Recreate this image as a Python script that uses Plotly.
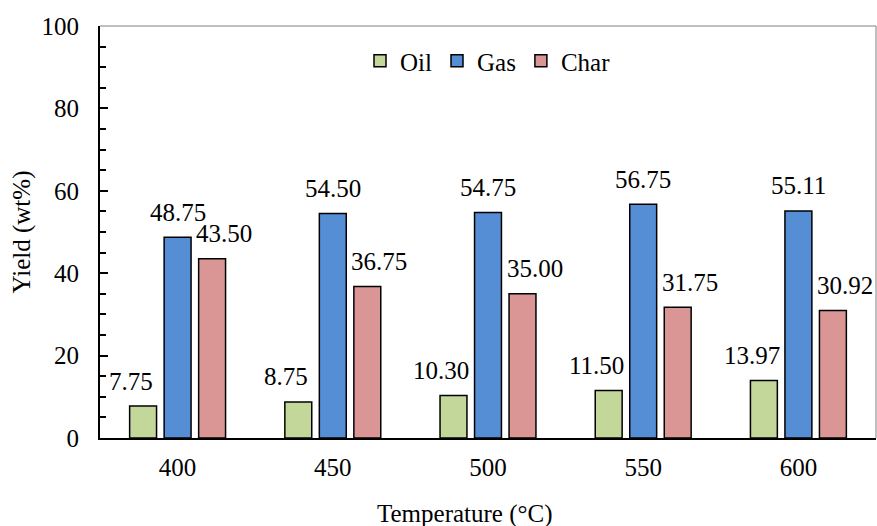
import plotly.graph_objects as go

categories = ["400", "450", "500", "550", "600"]
oil = [7.75, 8.75, 10.30, 11.50, 13.97]
gas = [48.75, 54.50, 54.75, 56.75, 55.11]
char = [43.50, 36.75, 35.00, 31.75, 30.92]
y_ticks = [0, 20, 40, 60, 80, 100]
x_title = "Temperature (°C)"
y_title = "Yield (wt%)"

series = [
    ("Oil", oil, "#C4D79B", -0.30),
    ("Gas", gas, "#558ED5", 0.0),
    ("Char", char, "#D99694", 0.30),
]

FONT = "Times New Roman, Liberation Serif, serif"
FS = 25
fig = go.Figure()
annotations = []
for name, vals, color, lab_off in series:
    fig.add_trace(go.Bar(
        name=name, x=categories, y=vals,
        marker=dict(color=color, line=dict(color="black", width=1.5)),
    ))
    for i, v in enumerate(vals):
        annotations.append(dict(
            x=i + lab_off, y=v, xref="x", yref="y", text=f"{v:.2f}",
            showarrow=False, yanchor="middle", yshift=25,
            font=dict(family=FONT, size=FS, color="black"),
        ))

# x-axis title placed slightly left of centre, as in the reference
annotations.append(dict(
    x=0.47, y=0, xref="paper", yref="paper", text=x_title, showarrow=False,
    xanchor="center", yanchor="middle", yshift=-76,
    font=dict(family=FONT, size=FS, color="black"),
))

fig.update_layout(
    width=877, height=526,
    margin=dict(l=100, r=1, t=26, b=88, autoexpand=False),
    paper_bgcolor="white", plot_bgcolor="white",
    barmode="group", bargap=0.333, bargroupgap=0.22,
    font=dict(family=FONT, size=FS, color="black"),
    showlegend=True,
    legend=dict(orientation="h", x=0.5, xanchor="center", y=0.915, yanchor="middle",
                font=dict(family=FONT, size=FS), bgcolor="rgba(0,0,0,0)",
                itemwidth=30, tracegroupgap=0),
    annotations=annotations,
    shapes=[
        dict(type="line", xref="paper", yref="paper", x0=0, x1=1, y0=1, y1=1,
             line=dict(color="#808080", width=1)),
        dict(type="line", xref="paper", yref="paper", x0=1, x1=1, y0=0, y1=1,
             line=dict(color="#808080", width=1)),
    ],
)
fig.update_xaxes(
    type="category", showline=True, linecolor="black", linewidth=2,
    ticks="", ticklabelstandoff=6, showgrid=False, zeroline=False, automargin=False,
    tickfont=dict(family=FONT, size=FS),
)
fig.update_yaxes(
    range=[0, 100], tickvals=y_ticks, showline=True, linecolor="black", linewidth=2,
    ticks="inside", ticklen=8, tickwidth=2, tickcolor="black",
    minor=dict(dtick=5, ticks="inside", ticklen=6, tickwidth=2, tickcolor="black", showgrid=False),
    ticklabelstandoff=14, showgrid=False, zeroline=False, automargin=False,
    tickfont=dict(family=FONT, size=FS),
    title=dict(text=y_title, font=dict(family=FONT, size=FS), standoff=4),
)
fig.write_html(
    "out.html",
    config={"displayModeBar": False},
    post_script="document.body.style.margin='0';document.body.style.overflow='hidden';",
)
